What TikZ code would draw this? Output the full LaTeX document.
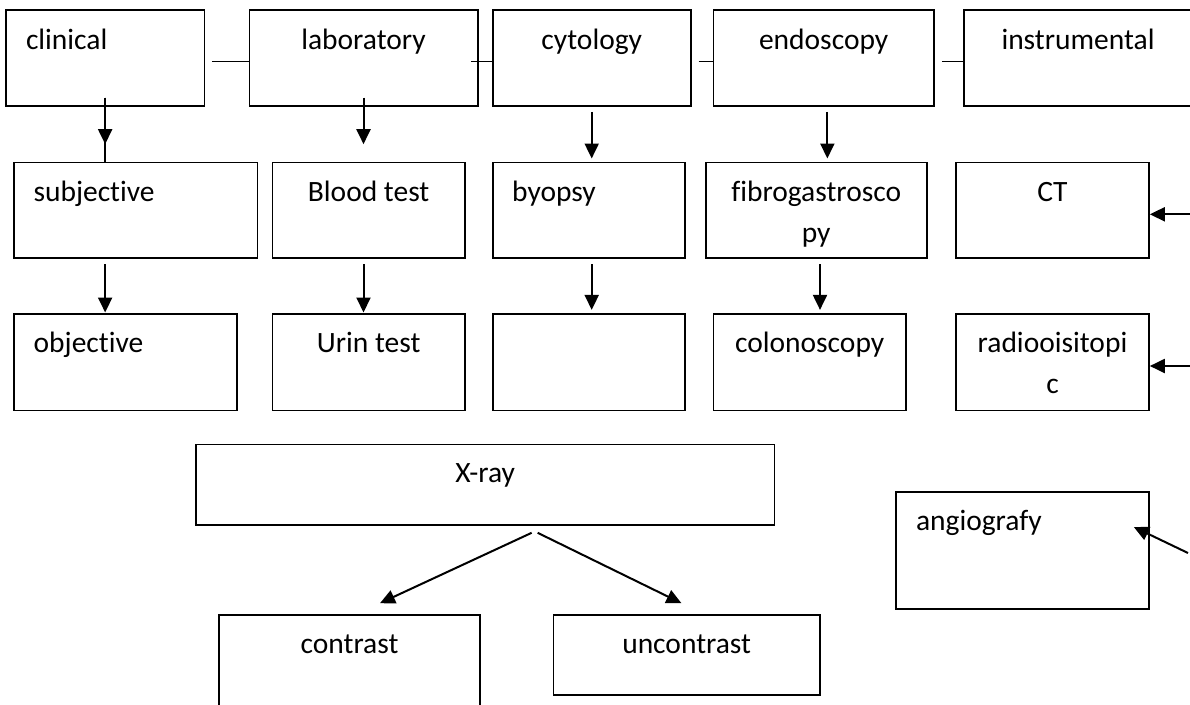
\documentclass[tikz,border=0pt]{standalone}
\usepackage{fontspec}
\setmainfont{Carlito}[Ligatures={CommonOff}]
\usetikzlibrary{arrows.meta,calc}
\begin{document}
\begin{tikzpicture}[x=1pt,y=-1pt,
  box/.style={draw, line width=1.6pt, rectangle, inner sep=0pt},
  lbl/.style={font=\fontsize{29.5}{35}\selectfont, inner sep=0pt, anchor=base},
  lbll/.style={lbl, anchor=base west},
  link/.style={line width=1.5pt},
  stem/.style={line width=2pt},
  arr/.style={line width=2pt, -{Triangle[width=14pt,length=15pt]}},
]
\useasboundingbox (0,0) rectangle (1190,704);
\clip (0,0) rectangle (1190,704);

% ---- row 1
\node[box, minimum width=198.3pt, minimum height=96pt] (clin)  at (105.15,58) {};
\node[box, minimum width=228.4pt, minimum height=96pt] (lab)   at (363.5,58) {};
\node[box, minimum width=198pt,   minimum height=96pt] (cyt)   at (591.7,58) {};
\node[box, minimum width=220.7pt, minimum height=96pt] (endo)  at (823.65,58) {};
\node[box, minimum width=228pt,   minimum height=96pt] (instr) at (1078,58) {};
% ---- row 2
\node[box, minimum width=243.3pt, minimum height=95.4pt] (subj)  at (135.65,210) {};
\node[box, minimum width=192.7pt, minimum height=95.4pt] (blood) at (368.65,210) {};
\node[box, minimum width=192.3pt, minimum height=95.4pt] (byop)  at (588.85,210) {};
\node[box, minimum width=221pt,   minimum height=95.4pt] (fibro) at (816.2,210) {};
\node[box, minimum width=193pt,   minimum height=95.4pt] (ct)    at (1052.5,210) {};
% ---- row 3
\node[box, minimum width=222.7pt, minimum height=96.3pt] (obj)   at (125.35,362.15) {};
\node[box, minimum width=192.7pt, minimum height=96.3pt] (urin)  at (368.65,362.15) {};
\node[box, minimum width=192.3pt, minimum height=96.3pt] (empty) at (588.85,362.15) {};
\node[box, minimum width=192.7pt, minimum height=96.3pt] (colon) at (809.65,362.15) {};
\node[box, minimum width=193pt,   minimum height=96.3pt] (radio) at (1052.5,362.15) {};
% ---- lower part
\node[box, minimum width=578.3pt, minimum height=80.4pt] (xray)  at (485.15,484.5) {};
\node[box, minimum width=261pt,   minimum height=97.3pt] (contr) at (349.5,663.35) {};
\node[box, minimum width=266.7pt, minimum height=80pt]   (uncon) at (686.65,654.7) {};
\node[box, minimum width=253.3pt, minimum height=116.7pt] (angio) at (1022.35,550.35) {};

% ---- texts
\node[lbll] (clinT)  at (25.8,49) {clinical};
\node[lbl]  (labT)   at (363.5,49) {laboratory};
\node[lbl]  (cytT)   at (591.7,49) {cytology};
\node[lbl]  (endoT)  at (823.65,49) {endoscopy};
\node[lbl]  (instrT) at (1078,49) {instrumental};

\node[lbll] (subjT)   at (33.3,201) {subjective};
\node[lbl]  (bloodT)  at (368.65,201) {Blood test};
\node[lbll] (byopT)   at (512,201) {byopsy};
\node[lbl]  (fibroTa) at (816.2,201) {fibrogastrosco};
\node[lbl]  (fibroTb) at (816.2,242) {py};
\node[lbl]  (ctT)     at (1052.5,201) {CT};

\node[lbll] (objT)    at (33.5,352.7) {objective};
\node[lbl]  (urinT)   at (368.65,352.7) {Urin test};
\node[lbl]  (colonT)  at (809.65,352.7) {colonoscopy};
\node[lbl]  (radioTa) at (1052.5,352.7) {radiooisitopi};
\node[lbl]  (radioTb) at (1052.5,393.7) {c};

\node[lbl]  (xrayT)  at (485.15,482.7) {X-ray};
\node[lbl]  (contrT) at (349.5,653.7) {contrast};
\node[lbl]  (unconT) at (686.65,653.7) {uncontrast};
\node[lbll] (angioT) at (915.8,530.3) {angiografy};

% ---- horizontal links in row 1
\draw[link, shorten <=6.7pt]  ([yshift=-3.7pt]clin.east) -- ([yshift=-3.7pt]lab.west);
\draw[link, shorten <=-7.7pt] ([yshift=-3.7pt]lab.east)  -- ([yshift=-3.7pt]cyt.west);
\draw[link, shorten <=7pt]    ([yshift=-3.7pt]cyt.east)  -- ([yshift=-3.7pt]endo.west);
\draw[link, shorten <=7pt]    ([yshift=-3.7pt]endo.east) -- ([yshift=-3.7pt]instr.west);

% ---- row 1 -> row 2
\draw[stem, shorten <=-9.3pt] (clin.south) -- (clin.south |- subj.north);
\draw[arr, shorten <=-9.3pt, shorten >=17.3pt] (clin.south) -- (clin.south |- subj.north);
\draw[arr, shorten <=-9.3pt, shorten >=17.3pt] (lab.south) -- (lab.south |- blood.north);
\draw[arr, shorten <=5pt, shorten >=3pt] (cyt.south) -- (cyt.south |- byop.north);
\draw[arr, shorten <=5pt, shorten >=3pt] ([xshift=3.7pt]endo.south) -- ([xshift=3.7pt]endo.south |- fibro.north);

% ---- row 2 -> row 3
\draw[arr, shorten <=5.6pt, shorten >=0.7pt] (subj.south -| clin.south) -- (clin.south |- obj.north);
\draw[arr, shorten <=5.6pt, shorten >=0.7pt] (blood.south -| lab.south) -- (lab.south |- urin.north);
\draw[arr, shorten <=5.6pt, shorten >=3.3pt] (byop.south -| cyt.south) -- (cyt.south |- empty.north);
\draw[arr, shorten <=5.6pt, shorten >=3.3pt] ([xshift=3.8pt]fibro.south) -- ([xshift=3.8pt]fibro.south |- colon.north);

% ---- arrows from the right edge
\coordinate (ctin)    at (1190,214.3);
\coordinate (radioin) at (1190,366);
\coordinate (angioin) at (1188,553);
\draw[arr] (ctin) -- (ctin -| ct.east);
\draw[arr] (radioin) -- (radioin -| radio.east);
\draw[arr] (angioin) -- ($(angio.east)+(-16,-23.35)$);

% ---- X-ray branches
\draw[arr] ($(xray.south)+(46.5,7.3)$) -- ($(contr.north)+(30.5,-10.7)$);
\draw[arr] ($(xray.south)+(52.5,7.3)$) -- ($(uncon.north)+(-5.2,-10.7)$);
\end{tikzpicture}
\end{document}
